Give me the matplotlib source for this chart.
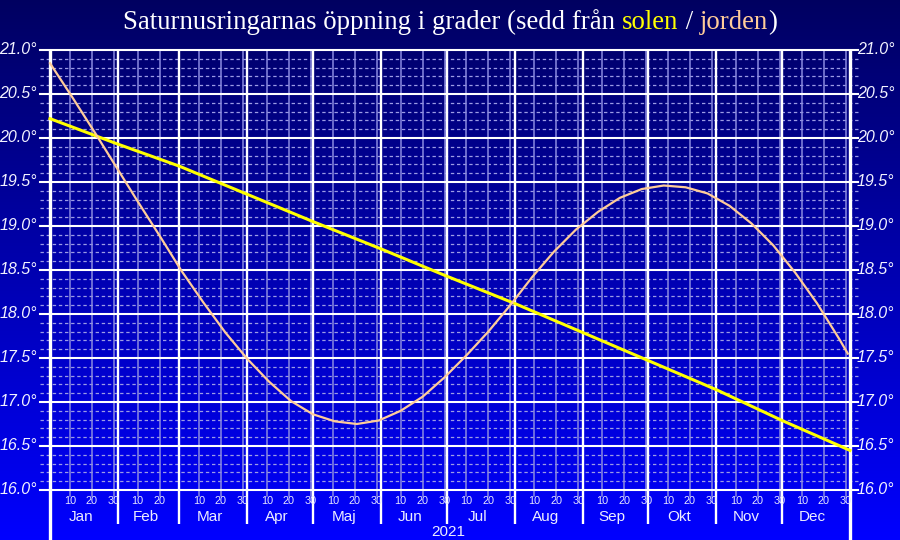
import matplotlib
matplotlib.use('Agg')
import matplotlib.pyplot as plt
import numpy as np
from matplotlib.transforms import blended_transform_factory

# ---------------- data ----------------
months = ['Jan', 'Feb', 'Mar', 'Apr', 'Maj', 'Jun', 'Jul', 'Aug', 'Sep', 'Okt', 'Nov', 'Dec']
month_lengths = [31, 28, 31, 30, 31, 30, 31, 31, 30, 31, 30, 31]
day_marks = [10, 20, 30]
year_label = '2021'
y_ticks = [16.0, 16.5, 17.0, 17.5, 18.0, 18.5, 19.0, 19.5, 20.0, 20.5, 21.0]

# ring opening seen from the Sun (day of year, degrees)
sun_days = [0, 31, 59, 90, 120, 151, 181, 212, 243, 273, 304, 334, 365]
sun_vals = [20.22, 19.93, 19.68, 19.36, 19.05, 18.74, 18.43, 18.12, 17.79, 17.47, 17.14, 16.79, 16.45]

# ring opening seen from the Earth (day of year, degrees)
earth_days = [0, 10, 20, 30, 40, 50, 60, 70, 80, 90, 100, 110, 120, 130, 140, 150, 160, 170,
              180, 190, 200, 210, 220, 230, 240, 250, 260, 270, 280, 290, 300, 310, 320, 330,
              340, 350, 360, 364]
earth_vals = [20.85, 20.47, 20.08, 19.68, 19.28, 18.89, 18.49, 18.13, 17.79, 17.49, 17.23, 17.01,
              16.86, 16.78, 16.75, 16.79, 16.90, 17.06, 17.28, 17.53, 17.80, 18.10, 18.42, 18.71,
              18.96, 19.16, 19.32, 19.42, 19.46, 19.44, 19.37, 19.23, 19.03, 18.78, 18.47, 18.12,
              17.72, 17.55]

title_parts = [('Saturnusringarnas öppning i grader (sedd från ', '#ffffff'),
               ('solen', '#ffff00'),
               (' / ', '#ffffff'),
               ('jorden', '#ffcc99'),
               (')', '#ffffff')]

# ---------------- figure ----------------
W, H = 900, 540
fig = plt.figure(figsize=(W / 100, H / 100), dpi=100)

# background gradient
bg = fig.add_axes([0, 0, 1, 1], zorder=0)
grad = np.linspace(0, 1, 256)[:, None]
top = np.array([0.0, 0.0, 0.38])
bot = np.array([0.0, 0.0, 1.0])
img = top[None, None, :] * (1 - grad[:, :, None]) + bot[None, None, :] * grad[:, :, None]
bg.imshow(img, aspect='auto', extent=[0, 1, 0, 1], origin='upper')
bg.set_xlim(0, 1); bg.set_ylim(0, 1)
bg.axis('off')

L, R, B, T = 50, 850, 490, 50
ax = fig.add_axes([L / W, (H - B) / H, (R - L) / W, (B - T) / H], zorder=1)
ax.patch.set_alpha(0)
for s in ax.spines.values():
    s.set_visible(False)
ax.set_xticks([]); ax.set_yticks([])
ax.set_xlim(0, 365)
ax.set_ylim(16, 21)

px_x = 1 / (R - L)
px_y = 1 / (B - T)
ty = blended_transform_factory(ax.transAxes, ax.transData)
tx = blended_transform_factory(ax.transData, ax.transAxes)

# minor dashed horizontal lines
for i in range(50):
    v = 16 + i * 0.1
    if i % 5 == 0:
        continue
    ax.plot([-10 * px_x, 1 + 10 * px_x], [v, v], transform=ty, color='#9c9ce6',
            lw=0.9, dashes=(2.7, 2.2), clip_on=False, zorder=1)

# day-of-month lines
starts = np.concatenate([[0], np.cumsum(month_lengths)])
for m, ml in enumerate(month_lengths):
    for d in day_marks:
        if d <= ml:
            xd = starts[m] + d - 1
            ax.plot([xd, xd], [-6 * px_y, 1], transform=tx, color='#8a8ae0', lw=1.1,
                    clip_on=False, zorder=1.5)
            ax.text(xd, -11 * px_y, str(d), transform=tx, ha='center', va='center',
                    fontsize=7.8, color='#e6e6ff', family='Liberation Sans')

# major horizontal lines + labels
for v in y_ticks:
    ax.plot([-10 * px_x, 1 + 8 * px_x], [v, v], transform=ty, color='white', lw=1.5,
            clip_on=False, zorder=2)
    ax.text(-13 * px_x, v, f'{v:.1f}°', transform=ty, ha='right', va='center',
            fontsize=11.5, style='italic', color='#f2f2ff', family='Liberation Sans')
    ax.text(1 + 7 * px_x, v, f'{v:.1f}°', transform=ty, ha='left', va='center',
            fontsize=11.5, style='italic', color='#f2f2ff', family='Liberation Sans')

# month boundaries
for i, s in enumerate(starts):
    if i == 0 or i == len(starts) - 1:
        ax.plot([s, s], [-50 * px_y, 1], transform=tx, color='white', lw=2.4,
                clip_on=False, zorder=2.5, solid_capstyle='butt')
    else:
        ax.plot([s, s], [-34 * px_y, 1], transform=tx, color='white', lw=1.7,
                clip_on=False, zorder=2.5, solid_capstyle='butt')

# month labels
for m, name in enumerate(months):
    ax.text((starts[m] + starts[m + 1]) / 2 - 1.5, -27 * px_y, name, transform=tx,
            ha='center', va='center', fontsize=11, color='#ececff', family='Liberation Sans')

ax.text(0.4975, -42 * px_y, year_label, transform=ax.transAxes, ha='center', va='center',
        fontsize=11, color='#ececff', family='Liberation Sans')

# data lines
ax.plot(sun_days, sun_vals, color='#ffff00', lw=2.2, zorder=4, clip_on=False)
ax.plot(earth_days, earth_vals, color='#ffcc99', lw=1.6, zorder=4, clip_on=False)

# ---------------- multi-coloured title ----------------
renderer = fig.canvas.get_renderer()
fs = 19.3
fam = 'Liberation Serif'


def text_width(s):
    t = fig.text(0, 0, s, fontsize=fs, family=fam)
    w = t.get_window_extent(renderer).width
    t.remove()
    return w


full = ''.join(p for p, _ in title_parts)
total = text_width(full)
xw = text_width('x')
x0 = W / 2 - total / 2
prefix = ''
for s, c in title_parts:
    off = text_width(prefix + 'x') - xw if prefix else 0
    fig.text((x0 + off) / W, 1 - 29 / H, s, fontsize=fs, family=fam, color=c,
             ha='left', va='baseline')
    prefix += s

fig.savefig('out.png', dpi=100)
